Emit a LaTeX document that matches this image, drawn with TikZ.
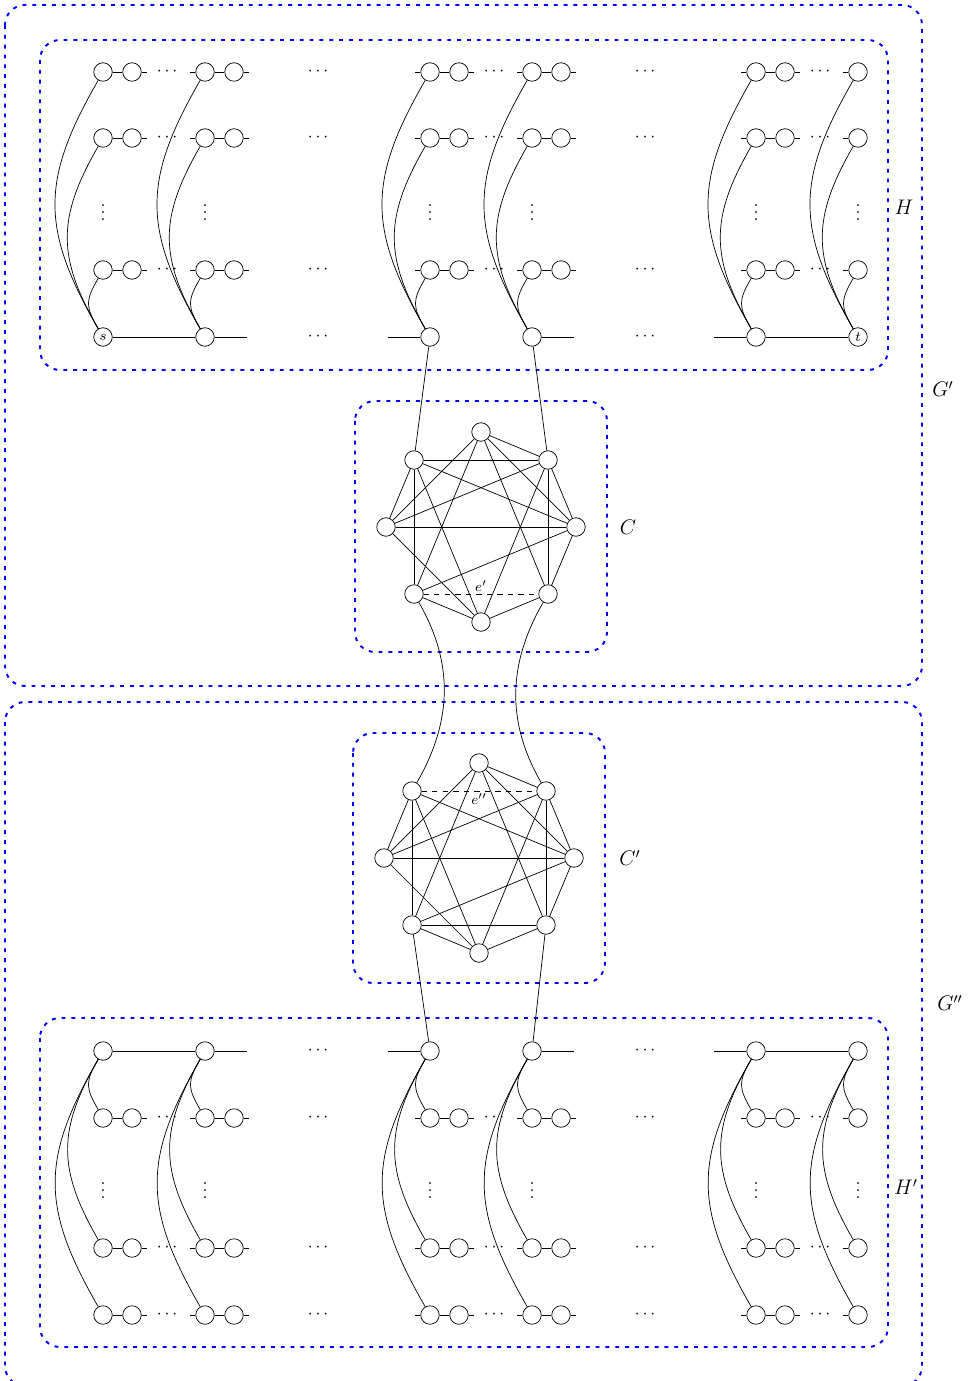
\documentclass[tikz,border=0pt]{standalone}
\usetikzlibrary{calc}

\begin{document}
\begin{tikzpicture}[x=0.02cm,y=0.02cm,
 v/.style={draw,circle,minimum size=3.7mm,inner sep=0pt,font=\footnotesize},
 grp/.style={draw=blue,line width=1.1pt,dash pattern=on 2.2pt off 3.4pt,rounded corners=4mm},
 lbl/.style={font=\large},
 dd/.style={inner sep=0pt},
 el/.style={font=\footnotesize,inner sep=1.5pt}]
\useasboundingbox (0,0) rectangle (970,-1381);
% groups
\draw[grp] (5,-5) rectangle (922,-686);
\draw[grp] (40,-40) rectangle (888,-370);
\draw[grp] (355,-401) rectangle (607,-652);
\draw[grp] (5,-702) rectangle (922,-1386);
\draw[grp] (353,-733) rectangle (605,-983);
\draw[grp] (40,-1018) rectangle (888,-1347);
\node[lbl] (lh) at (904,-207) {$H$};
\node[lbl] (lg) at (943,-389) {$G'$};
\node[lbl] (lc) at (628,-527) {$C$};
\node[lbl] (lcc) at (630,-858) {$C'$};
\node[lbl] (lgg) at (950,-1003) {$G''$};
\node[lbl] (lhh) at (906,-1187) {$H'$};

% H
\foreach \g/\x/\lab in {1/103/s,2/205/,3/430/,4/532/,5/756/,6/858/t}
  \node[v] (h\g-4) at (\x,-337) {$\lab$};
\foreach \g/\x in {1/103,2/205,3/430,4/532,5/756,6/858} {
  \foreach \r/\y/\l in {1/72/1.19,2/138/1.16,3/270/1.32} {
    \node[v] (h\g-\r) at (\x,-\y) {};
    \draw (h\g-4) to[out=120,in=240,looseness=\l] (h\g-\r);
  }
  \node[dd] (hv\g) at (\x,-207) {$\vdots$};
}
\foreach \g/\x in {1/103,2/205,3/430,4/532,5/756}
  \foreach \r/\y in {1/72,2/138,3/270} {
    \node[v] (hb\g-\r) at (\x+29,-\y) {};
    \draw (h\g-\r) -- (hb\g-\r);
    \draw (hb\g-\r) -- ++(15,0);
  }
\foreach \g in {2,...,6}
  \foreach \r in {1,2,3}
    \draw (h\g-\r) -- ++(-15,0);
\foreach \x in {167,318,494,645,820}
  \foreach \y in {72,138,270}
    \node[dd] (hd\x-\y) at (\x,-\y) {$\cdots$};
\node[dd] (hd318-337) at (318,-337) {$\cdots$};
\node[dd] (hd645-337) at (645,-337) {$\cdots$};
\draw (h1-4) -- (h2-4);
\draw (h2-4) -- ++(42,0);
\draw (h3-4) -- ++(-42,0);
\draw (h4-4) -- ++(42,0);
\draw (h5-4) -- ++(-42,0);
\draw (h5-4) -- (h6-4);

% C
\foreach \n/\dx/\dy in {1/0/95,2/67/67,3/95/0,4/67/-67,5/0/-95,6/-67/-67,7/-95/0,8/-67/67}
  \node[v] (c\n) at (481+\dx,-527+\dy) {};
\foreach \a/\b in {1/2,2/3,3/4,4/5,5/6,7/8,1/3,2/4,5/7,6/8,7/1,8/2,1/4,2/5,3/6,5/8,6/1,7/2,8/3,3/7}
  \draw (c\a) -- (c\b);
\draw[dashed] (c6) -- node[el,above] (le1) {$e'$} (c4);

% C'
\foreach \n/\dx/\dy in {1/0/95,2/67/67,3/95/0,4/67/-67,5/0/-95,6/-67/-67,7/-95/0,8/-67/67}
  \node[v] (d\n) at (479+\dx,-858+\dy) {};
\foreach \a/\b in {1/2,2/3,3/4,4/5,5/6,7/8,1/3,2/4,5/7,6/8,7/1,4/6,1/4,2/5,3/6,5/8,6/1,7/2,8/3,3/7}
  \draw (d\a) -- (d\b);
\draw[dashed] (d8) -- node[el,below] (le2) {$e''$} (d2);

% H'
\foreach \g/\x in {1/103,2/205,3/430,4/532,5/756,6/858} {
  \node[v] (k\g-4) at (\x,-1051) {};
  \foreach \r/\y/\l in {1/1315/1.19,2/1248/1.16,3/1118/1.32} {
    \node[v] (k\g-\r) at (\x,-\y) {};
    \draw (k\g-4) to[out=240,in=120,looseness=\l] (k\g-\r);
  }
  \node[dd] (kv\g) at (\x,-1185) {$\vdots$};
}
\foreach \g/\x in {1/103,2/205,3/430,4/532,5/756}
  \foreach \r/\y in {1/1315,2/1248,3/1118} {
    \node[v] (kb\g-\r) at (\x+29,-\y) {};
    \draw (k\g-\r) -- (kb\g-\r);
    \draw (kb\g-\r) -- ++(15,0);
  }
\foreach \g in {2,...,6}
  \foreach \r in {1,2,3}
    \draw (k\g-\r) -- ++(-15,0);
\foreach \x in {167,318,494,645,820}
  \foreach \y in {1118,1248,1315}
    \node[dd] (kd\x-\y) at (\x,-\y) {$\cdots$};
\node[dd] (kd318-1051) at (318,-1051) {$\cdots$};
\node[dd] (kd645-1051) at (645,-1051) {$\cdots$};
\draw (k1-4) -- (k2-4);
\draw (k2-4) -- ++(42,0);
\draw (k3-4) -- ++(-42,0);
\draw (k4-4) -- ++(42,0);
\draw (k5-4) -- ++(-42,0);
\draw (k5-4) -- (k6-4);

% links between the parts
\draw (h3-4) -- (c8);
\draw (h4-4) -- (c2);
\draw (c6) to[out=-60,in=60] (d8);
\draw (c4) to[out=-120,in=120] (d2);
\draw (d6) -- (k3-4);
\draw (d4) -- (k4-4);
\end{tikzpicture}
\end{document}
